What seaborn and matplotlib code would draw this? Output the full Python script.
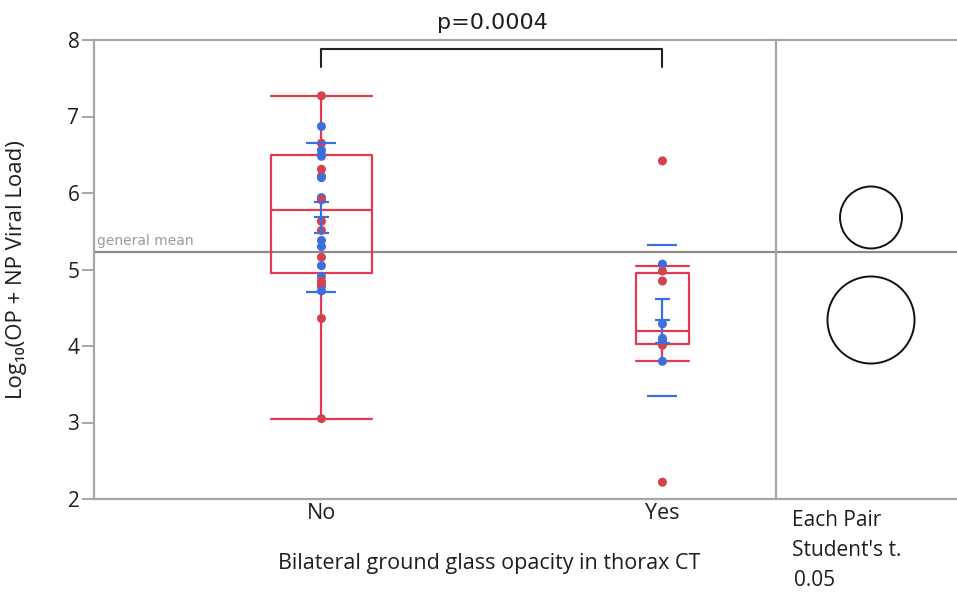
import numpy as np
import pandas as pd
import matplotlib
matplotlib.use("Agg")
import matplotlib.pyplot as plt
import seaborn as sns
from matplotlib.patches import Circle

# ---------------- data ----------------
groups = ["No", "Yes"]
no_values = [7.27, 6.87, 6.65, 6.56, 6.50, 6.48, 6.31, 6.22, 6.20, 5.94, 5.91,
             5.63, 5.51, 5.38, 5.30, 5.16, 5.05, 4.91, 4.85, 4.81, 4.78, 4.72,
             4.36, 3.05]
no_kind = ["r", "b", "r", "b", "b", "b", "r", "r", "b", "b", "r",
           "r", "r", "b", "b", "r", "b", "b", "r", "r", "r", "b",
           "r", "r"]
yes_values = [6.42, 5.07, 4.98, 4.85, 4.29, 4.10, 4.07, 4.01, 3.80, 2.22]
yes_kind = ["r", "b", "r", "r", "b", "b", "b", "r", "b", "r"]

box_q1 = [4.96, 4.02]
box_median = [5.78, 4.20]
box_q3 = [6.50, 4.95]
whisker_low = [3.05, 3.80]
whisker_high = [7.27, 5.05]
box_widths = [0.296, 0.155]

group_mean = [5.68, 4.34]
ci_low = [5.48, 4.04]
ci_high = [5.88, 4.62]
sd_low = [4.71, 3.35]
sd_high = [6.66, 5.32]
general_mean = 5.23
circle_radii = [0.405, 0.569]
p_text = "p=0.0004"

# ---------------- style ----------------
sns.set_theme(style="white")
FONT = ["Open Sans", "DejaVu Sans"]
plt.rcParams["font.family"] = FONT

RED = "#e5394f"
RED_PT = "#d3434f"
BLUE = "#3b6fe0"
GRAY = "#a6a6a6"
TXT = "#1e1e1e"

W, H = 957, 597
fig = plt.figure(figsize=(W / 100, H / 100), dpi=100)

def fx(px):
    return px / W

def fy(py):
    return 1 - py / H

x0, x1, xr = 94, 776, 957
ytop, ybot = 40, 499
ax = fig.add_axes([fx(x0), fy(ybot), fx(x1 - x0), (ybot - ytop) / H])
axr = fig.add_axes([fx(x1), fy(ybot), fx(xr - x1), (ybot - ytop) / H])

df = pd.DataFrame({
    "group": ["No"] * len(no_values) + ["Yes"] * len(yes_values),
    "value": no_values + yes_values,
    "kind": no_kind + yes_kind,
})

# box plots from summary stats
stats = []
for i, g in enumerate(groups):
    stats.append(dict(label=g, q1=box_q1[i], med=box_median[i], q3=box_q3[i],
                      whislo=whisker_low[i], whishi=whisker_high[i], fliers=[]))
lp = dict(color=RED, linewidth=1.6)
ax.bxp(stats, positions=[0, 1], widths=box_widths, capwidths=box_widths,
       showfliers=False, boxprops=lp, whiskerprops=lp, capprops=lp,
       medianprops=lp, manage_ticks=False, zorder=2)

# points
sns.stripplot(data=df, x="group", y="value", hue="kind", order=groups,
              palette={"r": RED_PT, "b": BLUE}, jitter=False, size=6.5,
              linewidth=0, legend=False, ax=ax, zorder=3)

# means, confidence intervals and std dev lines
for i in range(len(groups)):
    ax.vlines(i, ci_low[i], ci_high[i], color=BLUE, lw=1.6, zorder=4)
    ax.hlines([ci_low[i], group_mean[i], ci_high[i]], i - 0.022, i + 0.022,
              color=BLUE, lw=1.6, zorder=4)
    ax.hlines([sd_low[i], sd_high[i]], i - 0.044, i + 0.044,
              color=BLUE, lw=1.6, zorder=4)

# general mean
ax.axhline(general_mean, color="#8a8a8a", lw=1.6, zorder=1)
axr.axhline(general_mean, color="#8a8a8a", lw=1.6, zorder=1)
ax.text(-0.657, general_mean + 0.05, "general mean", color="#9a9a9a",
        fontsize=10, va="bottom", ha="left", family="DejaVu Sans")

# significance bracket
ax.plot([0, 0, 1, 1], [7.65, 7.88, 7.88, 7.65], color="#222222", lw=1.5,
        clip_on=False, zorder=5)
ax.text(0.5, 8.22, p_text, ha="center", va="center", fontsize=16,
        color=TXT, clip_on=False, family="DejaVu Sans")

# axes formatting
ax.set_xlim(-0.667, 1.333)
ax.set_ylim(2, 8)
ax.set_yticks(np.arange(2, 9, 1))
ax.set_xticks([0, 1])
ax.set_xticklabels(groups)
ax.set_xticks([0.667], minor=True)
ax.tick_params(axis="x", which="major", length=0, pad=3, labelsize=15.5,
               labelcolor=TXT)
ax.tick_params(axis="x", which="minor", length=7, color="#cccccc", width=1)
ax.tick_params(axis="y", length=8.5, width=1.4, color=GRAY, pad=2,
               labelsize=15, labelcolor=TXT, left=True)
ax.set_xlabel("")
ax.set_ylabel("Log₁₀(OP + NP Viral Load)", fontsize=16, color=TXT)
ax.yaxis.set_label_coords(-0.098, 0.5)
for s in ["left", "top", "bottom"]:
    ax.spines[s].set_color(GRAY)
    ax.spines[s].set_linewidth(1.6)
ax.spines["right"].set_visible(False)

# comparison circles panel
ax_h_px = ybot - ytop
ppu = ax_h_px / 6.0
axr.set_ylim(2, 8)
axr.set_xlim(0, (xr - x1) / ppu)
cx = (871 - x1) / ppu
for m, r in zip(group_mean, circle_radii):
    axr.add_patch(Circle((cx, m), r, fill=False, edgecolor="#111111", lw=1.4,
                         zorder=3))
axr.set_xticks([])
axr.set_yticks([])
for s in ["left", "top", "bottom"]:
    axr.spines[s].set_color(GRAY)
    axr.spines[s].set_linewidth(1.6)
axr.spines["right"].set_visible(False)

fig.text(fx(489.5), fy(563), "Bilateral ground glass opacity in thorax CT",
         ha="center", va="center", fontsize=15.5, color=TXT)
fig.text(fx(792), fy(520), "Each Pair", ha="left", va="center", fontsize=15,
         color=TXT)
fig.text(fx(792), fy(550), "Student's t.", ha="left", va="center",
         fontsize=15, color=TXT)
fig.text(fx(794), fy(581), "0.05", ha="left", va="center", fontsize=15,
         color=TXT)

fig.savefig("out.png", dpi=100, facecolor="white")
